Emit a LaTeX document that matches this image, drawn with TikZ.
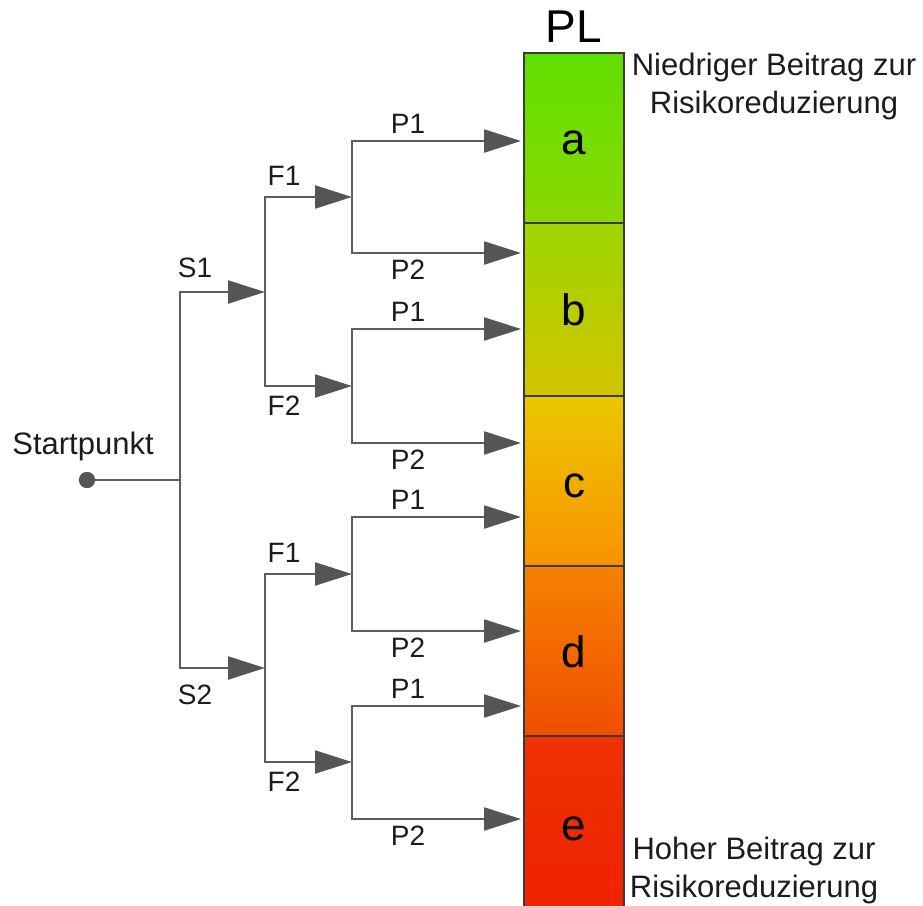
\documentclass[tikz,border=0pt]{standalone}
\usepackage{fontspec}
\setmainfont{Liberation Sans}
\usetikzlibrary{arrows.meta}
\definecolor{linegray}{HTML}{5E5E5E}
\definecolor{arrowgray}{HTML}{555555}
\definecolor{barborder}{HTML}{3A3A3A}
\definecolor{txt}{HTML}{1C1C1C}
\definecolor{plAt}{HTML}{5FE000}
\definecolor{plAb}{HTML}{8CD800}
\definecolor{plBt}{HTML}{9CD600}
\definecolor{plBb}{HTML}{D4C400}
\definecolor{plCt}{HTML}{EAC800}
\definecolor{plCm}{HTML}{FFC000}
\definecolor{plCb}{HTML}{FA9200}
\definecolor{plDt}{HTML}{F58200}
\definecolor{plDb}{HTML}{F04E00}
\definecolor{plEt}{HTML}{EE3200}
\definecolor{plEb}{HTML}{EE2200}
\begin{document}
\begin{tikzpicture}[x=1pt,y=-1pt,
  conn/.style={draw=linegray, line width=2.2pt},
  arr/.style={conn, -{Triangle[length=37pt,width=23pt,fill=arrowgray,color=arrowgray]}},
  dot/.style={circle, fill=arrowgray, minimum size=16pt, inner sep=0pt},
  lbl/.style={font=\fontsize{28}{30}\selectfont, text=txt, inner sep=0pt, anchor=north},
  sidetext/.style={font=\fontsize{31}{38}\selectfont, text=txt, inner sep=0pt, anchor=north, align=center},
  seg/.style={draw=barborder, line width=2pt, minimum width=100pt, inner sep=0pt, anchor=north west},
  plletter/.style={font=\fontsize{44}{48}\selectfont, text=black, inner sep=0pt, anchor=base},
  pltitle/.style={font=\fontsize{46}{50}\selectfont, text=black, inner sep=0pt, anchor=base}]
\useasboundingbox (0,0) rectangle (923,905);

% PL bar
\node[seg, top color=plAt, bottom color=plAb, minimum height=170pt] (a) at (523,52) {};
\node[seg, top color=plBt, bottom color=plBb, minimum height=173pt] (b) at (523,222) {};
\node[seg, top color=plCt, middle color=plCm, bottom color=plCb, minimum height=170pt] (c) at (523,395) {};
\node[seg, top color=plDt, bottom color=plDb, minimum height=170pt] (d) at (523,565) {};
\node[seg, top color=plEt, bottom color=plEb, minimum height=176pt] (e) at (523,735) {};
\node[plletter] (la) at ([yshift=-16pt]a.center) {a};
\node[plletter] (lb) at ([yshift=-16pt]b.center) {b};
\node[plletter] (lc) at ([yshift=-16pt]c.center) {c};
\node[plletter] (ld) at ([yshift=-16pt]d.center) {d};
\node[plletter] (le) at ([yshift=-16pt]e.center) {e};
\node[pltitle] (pl) at (574,42) {PL};

\node[sidetext] (low) at (774,53) {Niedriger Beitrag zur\\Risikoreduzierung};
\node[sidetext] (high) at (754,837) {Hoher Beitrag zur\\Risikoreduzierung};

% tree coordinates
\coordinate (j0) at (180,480);
\coordinate (s1) at (265,292);
\coordinate (s2) at (265,668);
\coordinate (f11) at (352,197);
\coordinate (f12) at (352,386);
\coordinate (f21) at (352,574);
\coordinate (f22) at (352,762);
\coordinate (p111) at (521,141);
\coordinate (p112) at (521,253);
\coordinate (p121) at (521,329);
\coordinate (p122) at (521,443);
\coordinate (p211) at (521,517);
\coordinate (p212) at (521,631);
\coordinate (p221) at (521,706);
\coordinate (p222) at (521,819);

\node[dot] (start) at (87,480) {};
\draw[conn] (start.center) -- (j0);
\draw[arr] (j0) |- (s1);
\draw[arr] (j0) |- (s2);
\draw[arr] (s1) |- (f11);
\draw[arr] (s1) |- (f12);
\draw[arr] (s2) |- (f21);
\draw[arr] (s2) |- (f22);
\draw[arr] (f11) |- (p111);
\draw[arr] (f11) |- (p112);
\draw[arr] (f12) |- (p121);
\draw[arr] (f12) |- (p122);
\draw[arr] (f21) |- (p211);
\draw[arr] (f21) |- (p212);
\draw[arr] (f22) |- (p221);
\draw[arr] (f22) |- (p222);
\node[dot] (startdot) at (start.center) {};

% labels
\node[sidetext] (startlbl) at (83,432) {Startpunkt};
\node[lbl] (ls1) at (195,258) {S1};
\node[lbl] (ls2) at (195,685) {S2};
\node[lbl] (lf11) at (284,166) {F1};
\node[lbl] (lf12) at (284,396) {F2};
\node[lbl] (lf21) at (284,543) {F1};
\node[lbl] (lf22) at (284,772) {F2};
\node[lbl] (lp111) at (408,114) {P1};
\node[lbl] (lp112) at (408,260) {P2};
\node[lbl] (lp121) at (408,302) {P1};
\node[lbl] (lp122) at (408,450) {P2};
\node[lbl] (lp211) at (408,490) {P1};
\node[lbl] (lp212) at (408,638) {P2};
\node[lbl] (lp221) at (408,679) {P1};
\node[lbl] (lp222) at (408,826) {P2};
\end{tikzpicture}
\end{document}
